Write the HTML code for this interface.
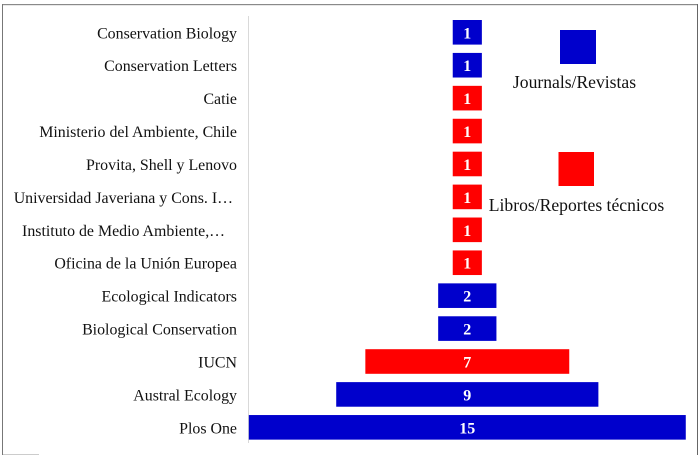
<!DOCTYPE html>
<html>
<head>
<meta charset="utf-8">
<style>
html,body{margin:0;padding:0;background:#fff;}
#chart{display:block;}
text{font-family:"Liberation Serif",serif;white-space:pre;}
</style>
</head>
<body>
<svg id="chart" width="700" height="459" viewBox="0 0 700 459" xmlns="http://www.w3.org/2000/svg">
  <rect x="2" y="4" width="695" height="1.2" fill="#8a8a8a"/>
  <rect x="2" y="4" width="1" height="451" fill="#777"/>
  <rect x="697" y="4" width="1" height="451" fill="#666"/>
  <rect x="3" y="454" width="36" height="1" fill="#ccc"/>
  <rect x="248" y="16" width="1" height="427" fill="#d9d9d9"/>
  <g id="bars"></g>
  <g>
    <rect x="560" y="30" width="36" height="34" fill="#0000cc"/>
    <text x="574.500" y="88" font-size="17.6" text-anchor="middle" fill="#111">Journals/Revistas</text>
    <rect x="558.500" y="152" width="35.500" height="34" fill="#ff0000"/>
    <text x="576.500" y="211" font-size="17.6" text-anchor="middle" fill="#111">Libros/Reportes técnicos</text>
  </g>
</svg>
<script>
const categories = ["Conservation Biology","Conservation Letters","Catie","Ministerio del Ambiente, Chile","Provita, Shell y Lenovo","Universidad Javeriana y Cons. I…\u00a0","Instituto de Medio Ambiente,…\u00a0\u00a0\u00a0","Oficina de la Unión Europea","Ecological Indicators","Biological Conservation","IUCN","Austral Ecology","Plos One"];
const values = [1,1,1,1,1,1,1,1,2,2,7,9,15];
const seriesTypes = ["journal","journal","report","report","report","report","report","report","journal","journal","report","journal","journal"];
const typeColors = {journal:"#0000cc",report:"#ff0000"};

const svgNS = "http://www.w3.org/2000/svg";
const centerX = 467.3;
const unitWidth = 29.13;
const firstTop = 20;
const pitch = 32.92;
const barHeight = 24.6;
const widthScale = v => v * unitWidth;
const bandTop = i => firstTop + i * pitch;
const group = document.getElementById("bars");

categories.forEach((name, i) => {
  const w = widthScale(values[i]);
  const y = bandTop(i);
  const mid = y + barHeight / 2;

  const label = document.createElementNS(svgNS, "text");
  
  
  label.setAttribute("x", 237);
  label.setAttribute("y", mid + 6);
  label.setAttribute("font-size", "15.9");
  label.setAttribute("text-anchor", "end");
  label.setAttribute("fill", "#111");
  label.textContent = name;
  group.appendChild(label);

  const bar = document.createElementNS(svgNS, "rect");
  
  
  bar.setAttribute("x", centerX - w / 2);
  bar.setAttribute("y", y);
  bar.setAttribute("width", w);
  bar.setAttribute("height", barHeight);
  bar.setAttribute("fill", typeColors[seriesTypes[i]]);
  group.appendChild(bar);

  const val = document.createElementNS(svgNS, "text");
  
  
  val.setAttribute("x", centerX);
  val.setAttribute("y", mid + 6);
  val.setAttribute("font-size", "16");
  val.setAttribute("font-weight", "bold");
  val.setAttribute("text-anchor", "middle");
  val.setAttribute("fill", "#fff");
  val.textContent = values[i];
  group.appendChild(val);
});
</script>
</body>
</html>
